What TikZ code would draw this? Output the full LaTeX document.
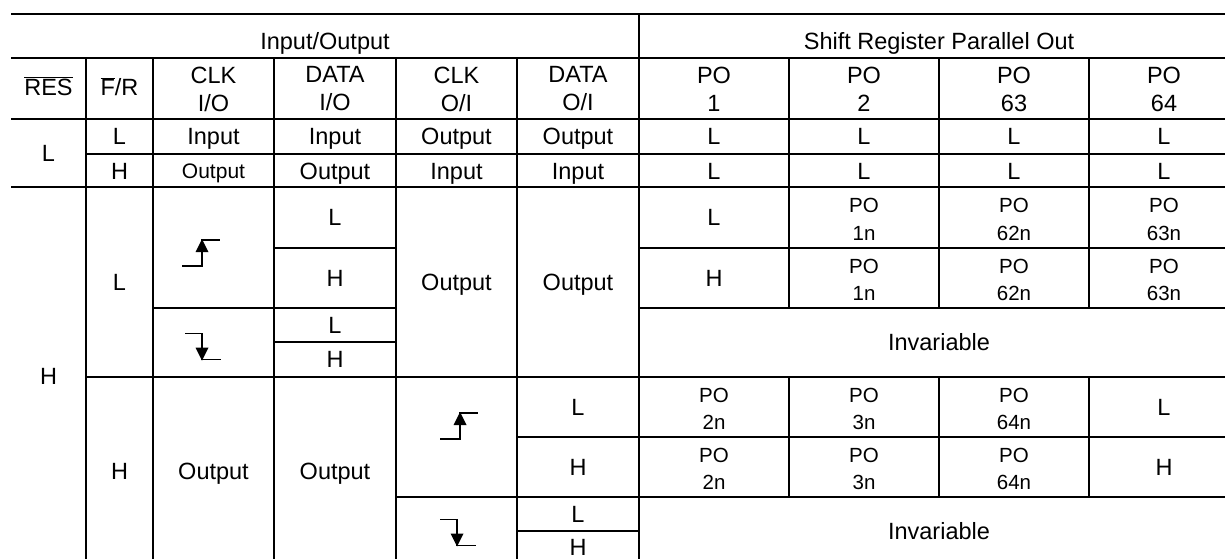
\documentclass[tikz,border=0pt]{standalone}
\usepackage{fontspec}
\setmainfont{Liberation Sans}
\begin{document}
\begin{tikzpicture}[x=1pt,y=-1pt,
  rule/.style={line width=2pt},
  edgeline/.style={line width=1.5pt},
  big/.style={font=\fontsize{23.5}{28}\selectfont, inner sep=0pt, align=center},
  one/.style={font=\fontsize{23.5}{28}\selectfont, inner sep=0pt, text height=16.8pt, text depth=0pt},
  sm/.style={font=\fontsize{21}{27}\selectfont, inner sep=0pt, text height=15pt, text depth=0pt},
  two/.style={font=\fontsize{20.5}{27.5}\selectfont, inner sep=0pt, align=center},
  rise/.pic={\draw[edgeline] (-20,13) -- (0,13) -- (0,-13) -- (18,-13);
             \fill (0,-14) -- (-6.5,-1) -- (6.5,-1) -- cycle;},
  fall/.pic={\draw[edgeline] (-17,-13) -- (0,-13) -- (0,13) -- (19,13);
             \fill (0,14) -- (-6.5,1) -- (6.5,1) -- cycle;}
]
\useasboundingbox (0,0) rectangle (1225,558);
\clip (0,0) rectangle (1225,558);

% horizontal rules
\draw[rule] (11,14) -- (1240,14);
\draw[rule] (11,58) -- (1240,58);
\draw[rule] (11,119) -- (1240,119);
\draw[rule] (86,154) -- (1240,154);
\draw[rule] (11,187) -- (1240,187);
\draw[rule] (274,248) -- (396,248);
\draw[rule] (639,248) -- (1240,248);
\draw[rule] (153,308) -- (396,308);
\draw[rule] (639,308) -- (1240,308);
\draw[rule] (274,342) -- (396,342);
\draw[rule] (86,377) -- (1240,377);
\draw[rule] (517,437) -- (1240,437);
\draw[rule] (396,497) -- (1240,497);
\draw[rule] (517,531) -- (639,531);

% vertical rules
\foreach \x in {86,153,274,396,517} \draw[rule] (\x,58) -- (\x,570);
\draw[rule] (639,14) -- (639,570);
\foreach \x in {789,939,1089} {
  \draw[rule] (\x,58) -- (\x,308);
  \draw[rule] (\x,377) -- (\x,497);
}

% header
\node[one] (hio) at (325,41) {Input/Output};
\node[one] (hsr) at (939,41) {Shift Register Parallel Out};
\node[one] (hres) at (48.5,87) {$\overline{\mbox{RES}}$};
\node[one] (hfr) at (119.5,87) {$\overline{\mbox{F}}$/R};
\node[big] (hclkio) at (213.5,89) {CLK\\I/O};
\node[big] (hdatio) at (335,89) {DATA\\I/O};
\node[big] (hclkoi) at (456.5,89) {CLK\\O/I};
\node[big] (hdatoi) at (578,89) {DATA\\O/I};
\node[big] (hpo1) at (714,89) {PO\\1};
\node[big] (hpo2) at (864,89) {PO\\2};
\node[big] (hpo63) at (1014,89) {PO\\63};
\node[big] (hpo64) at (1164,89) {PO\\64};

% RES = L
\node[one] (resL) at (48.5,153) {L};
\node[one] (a1) at (119.5,136.5) {L};
\node[one] (a2) at (213.5,136.5) {Input};
\node[one] (a3) at (335,136.5) {Input};
\node[one] (a4) at (456.5,136.5) {Output};
\node[one] (a5) at (578,136.5) {Output};
\node[one] (a6) at (714,136.5) {L};
\node[one] (a7) at (864,136.5) {L};
\node[one] (a8) at (1014,136.5) {L};
\node[one] (a9) at (1164,136.5) {L};
\node[one] (b1) at (119.5,171) {H};
\node[sm]  (b2) at (213.5,171) {Output};
\node[one] (b3) at (335,171) {Output};
\node[one] (b4) at (456.5,171) {Input};
\node[one] (b5) at (578,171) {Input};
\node[one] (b6) at (714,171) {L};
\node[one] (b7) at (864,171) {L};
\node[one] (b8) at (1014,171) {L};
\node[one] (b9) at (1164,171) {L};

% RES = H
\node[one] (resH) at (48.5,376) {H};

% F/R = L
\node[one] (c1) at (119.5,282) {L};
\pic at (202,253) {rise};
\pic at (202,346.5) {fall};
\node[one] (c3a) at (335,217.5) {L};
\node[one] (c3b) at (335,278) {H};
\node[one] (c3c) at (335,325) {L};
\node[one] (c3d) at (335,359.5) {H};
\node[one] (c4) at (456.5,282) {Output};
\node[one] (c5) at (578,282) {Output};
\node[one] (c6a) at (714,217.5) {L};
\node[two] (c7a) at (864,219.5) {PO\\1n};
\node[two] (c8a) at (1014,219.5) {PO\\62n};
\node[two] (c9a) at (1164,219.5) {PO\\63n};
\node[one] (c6b) at (714,278) {H};
\node[two] (c7b) at (864,280) {PO\\1n};
\node[two] (c8b) at (1014,280) {PO\\62n};
\node[two] (c9b) at (1164,280) {PO\\63n};
\node[one] (inv1) at (939,342.5) {Invariable};

% F/R = H
\node[one] (d1) at (119.5,471) {H};
\node[one] (d2) at (213.5,471) {Output};
\node[one] (d3) at (335,471) {Output};
\pic at (460,426) {rise};
\pic at (457,532.5) {fall};
\node[one] (d5a) at (578,407) {L};
\node[one] (d5b) at (578,467) {H};
\node[one] (d5c) at (578,514) {L};
\node[one] (d5d) at (578,547) {H};
\node[two] (d6a) at (714,409) {PO\\2n};
\node[two] (d7a) at (864,409) {PO\\3n};
\node[two] (d8a) at (1014,409) {PO\\64n};
\node[one] (d9a) at (1164,407) {L};
\node[two] (d6b) at (714,469) {PO\\2n};
\node[two] (d7b) at (864,469) {PO\\3n};
\node[two] (d8b) at (1014,469) {PO\\64n};
\node[one] (d9b) at (1164,467) {H};
\node[one] (inv2) at (939,531) {Invariable};
\end{tikzpicture}
\end{document}
